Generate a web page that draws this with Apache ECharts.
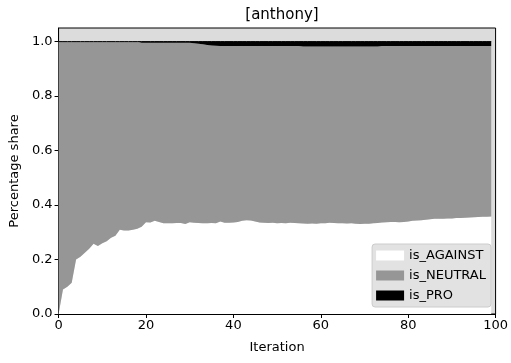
<!DOCTYPE html>
<html>
<head>
<meta charset="utf-8">
<script src="https://cdn.jsdelivr.net/npm/echarts@6/dist/echarts.min.js"></script>
<style>
  html, body { margin: 0; padding: 0; background: #fff; }
  #chart { width: 511px; height: 363px; }
</style>
</head>
<body>
<div id="chart"></div>
<script>
  // shares per iteration (0..99)
  const against = [
    0.0, 0.09, 0.10, 0.115, 0.20, 0.21, 0.225, 0.24, 0.258, 0.25,
    0.26, 0.267, 0.28, 0.287, 0.309, 0.307, 0.307, 0.309, 0.313, 0.32,
    0.337, 0.336, 0.342, 0.338, 0.333, 0.333, 0.333, 0.334, 0.334, 0.33,
    0.337, 0.335, 0.334, 0.333, 0.333, 0.334, 0.333, 0.34, 0.335, 0.335,
    0.336, 0.338, 0.342, 0.344, 0.343, 0.34, 0.336, 0.335, 0.334, 0.335,
    0.333, 0.334, 0.333, 0.335, 0.334, 0.333, 0.332, 0.331, 0.332, 0.331,
    0.333, 0.333, 0.335, 0.334, 0.333, 0.333, 0.332, 0.333, 0.331, 0.33,
    0.331, 0.331, 0.333, 0.334, 0.336, 0.337, 0.338, 0.338, 0.337, 0.338,
    0.34, 0.342, 0.343, 0.344, 0.346, 0.348, 0.35, 0.35, 0.35, 0.351,
    0.351, 0.352, 0.352, 0.353, 0.354, 0.355, 0.356, 0.357, 0.357, 0.358
  ];
  const neutral = [
    1.0, 0.91, 0.90, 0.885, 0.80, 0.79, 0.775, 0.76, 0.742, 0.75,
    0.74, 0.733, 0.72, 0.713, 0.691, 0.693, 0.693, 0.691, 0.687, 0.676,
    0.659, 0.66, 0.654, 0.658, 0.663, 0.663, 0.663, 0.662, 0.662, 0.666,
    0.659, 0.659, 0.658, 0.657, 0.655, 0.652, 0.652, 0.644, 0.649, 0.649,
    0.648, 0.646, 0.642, 0.64, 0.641, 0.644, 0.648, 0.649, 0.65, 0.649,
    0.651, 0.65, 0.651, 0.649, 0.65, 0.651, 0.65, 0.651, 0.65, 0.651,
    0.649, 0.649, 0.647, 0.648, 0.649, 0.649, 0.65, 0.649, 0.651, 0.652,
    0.651, 0.651, 0.649, 0.648, 0.648, 0.647, 0.646, 0.646, 0.647, 0.646,
    0.644, 0.642, 0.641, 0.64, 0.638, 0.636, 0.634, 0.634, 0.634, 0.633,
    0.633, 0.632, 0.632, 0.631, 0.63, 0.629, 0.628, 0.627, 0.627, 0.626
  ];
  const pro = [
    0, 0, 0, 0, 0, 0, 0, 0, 0, 0,
    0, 0, 0, 0, 0, 0, 0, 0, 0, 0.004,
    0.004, 0.004, 0.004, 0.004, 0.004, 0.004, 0.004, 0.004, 0.004, 0.004,
    0.004, 0.006, 0.008, 0.01, 0.012, 0.014, 0.015, 0.016, 0.016, 0.016,
    0.016, 0.016, 0.016, 0.016, 0.016, 0.016, 0.016, 0.016, 0.016, 0.016,
    0.016, 0.016, 0.016, 0.016, 0.016, 0.016, 0.018, 0.018, 0.018, 0.018,
    0.018, 0.018, 0.018, 0.018, 0.018, 0.018, 0.018, 0.018, 0.018, 0.018,
    0.018, 0.018, 0.018, 0.018, 0.016, 0.016, 0.016, 0.016, 0.016, 0.016,
    0.016, 0.016, 0.016, 0.016, 0.016, 0.016, 0.016, 0.016, 0.016, 0.016,
    0.016, 0.016, 0.016, 0.016, 0.016, 0.016, 0.016, 0.016, 0.016, 0.016
  ];
  // x axis runs 0..100, labelled every 20
  const iterations = Array.from({ length: 101 }, (_, i) => String(i));
  const seriesNames = ['is_AGAINST', 'is_NEUTRAL', 'is_PRO'];
  const colors = ['#ffffff', '#969696', '#000000'];

  const font = 'DejaVu Sans';

  const makeSeries = (idx, values, lineWidth) => ({
    name: seriesNames[idx],
    type: 'line',
    stack: 'share',
    symbol: 'none',
    data: values,
    itemStyle: { color: colors[idx] },
    lineStyle: { width: lineWidth, color: colors[idx] },
    areaStyle: { color: colors[idx], opacity: 1 }
  });

  const chart = echarts.init(document.getElementById('chart'));
  const option = {
    animation: false,
    textStyle: { fontFamily: font },
    title: {
      text: '[anthony]',
      left: 277,
      top: 3,
      textAlign: 'center',
      textStyle: { fontFamily: font, fontSize: 15, fontWeight: 'normal', color: '#000' }
    },
    grid: {
      left: 58,
      right: 14,
      top: 28,
      bottom: 49,
      show: true,
      backgroundColor: '#dcdcdc',
      borderColor: '#000',
      borderWidth: 1
    },
    legend: {
      data: seriesNames,
      orient: 'vertical',
      right: 20,
      bottom: 56,
      icon: 'rect',
      itemWidth: 28,
      itemHeight: 10,
      itemGap: 7,
      itemTextGap: 10,
      padding: [5, 5, 5, 4],
      backgroundColor: '#e2e2e2',
      borderColor: '#cccccc',
      borderWidth: 1,
      borderRadius: 3,
      textStyle: { fontFamily: font, fontSize: 13, color: '#000' }
    },
    xAxis: {
      type: 'category',
      data: iterations,
      boundaryGap: false,
      name: 'Iteration',
      nameLocation: 'middle',
      nameGap: 27,
      nameTextStyle: { fontFamily: font, fontSize: 13, color: '#000' },
      splitLine: { show: false },
      axisLine: { onZero: false, lineStyle: { color: '#000', width: 1 } },
      axisTick: { interval: 19, length: 4, lineStyle: { color: '#000' } },
      axisLabel: { interval: 19, fontFamily: font, fontSize: 13, color: '#000', margin: 5 }
    },
    yAxis: {
      type: 'value',
      min: 0,
      max: 1.05,
      interval: 0.2,
      name: 'Percentage share',
      nameLocation: 'middle',
      nameGap: 34,
      nameTextStyle: { fontFamily: font, fontSize: 13, color: '#000' },
      splitLine: { show: false },
      axisLine: { show: true, lineStyle: { color: '#000', width: 1 } },
      axisTick: { show: true, length: 4, lineStyle: { color: '#000' } },
      axisLabel: {
        fontFamily: font, fontSize: 13, color: '#000', margin: 6,
        showMaxLabel: false,
        formatter: v => v.toFixed(1)
      }
    },
    series: [
      makeSeries(0, against, 0),
      makeSeries(1, neutral, 0),
      makeSeries(2, pro, 1)
    ]
  };
  chart.setOption(option);
</script>
</body>
</html>
